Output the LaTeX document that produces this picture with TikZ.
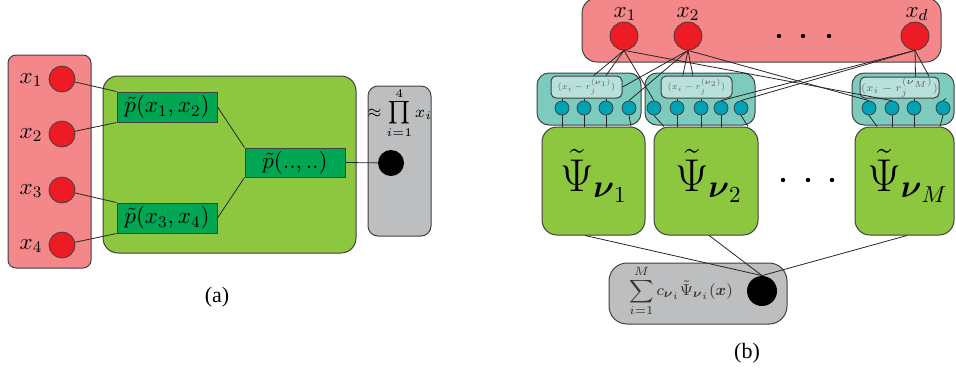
\RequirePackage{fix-cm}
\documentclass[tikz,border=0pt]{standalone}
\usepackage{amsmath}
\usepackage[no-math]{fontspec}
\newfontfamily\capfont{Liberation Serif}
\usetikzlibrary{fit,calc}
\definecolor{redbg}{HTML}{F4878A}
\definecolor{reddot}{HTML}{ED1C24}
\definecolor{greenbig}{HTML}{8DC63F}
\definecolor{greendark}{HTML}{00A651}
\definecolor{grayfill}{HTML}{BCBEC0}
\definecolor{tealbox}{HTML}{7DCBBE}
\definecolor{tealinner}{HTML}{B7E1DA}
\definecolor{tealdot}{HTML}{00A3B5}
\begin{document}
\begin{tikzpicture}[x=0.5pt,y=-0.5pt,
  bx/.style={draw=black!75, line width=0.5pt, inner sep=0pt},
  rdot/.style={circle, draw=black!75, line width=0.4pt, fill=reddot, inner sep=0pt},
  tdot/.style={circle, draw=black!75, line width=0.4pt, fill=tealdot, inner sep=0pt, minimum size=7pt},
  bdot/.style={circle, fill=black, inner sep=0pt},
  pbox/.style={bx, fill=greendark, font=\fontsize{11.5}{13}\selectfont},
  lab/.style={font=\fontsize{11.5}{13}\selectfont, inner sep=0pt},
  ilab/.style={font=\fontsize{6}{7}\selectfont, text=black!60, inner sep=0pt},
  psi/.style={font=\fontsize{23}{27}\selectfont, inner sep=0pt},
  captext/.style={font=\capfont\fontsize{11}{13}\selectfont, inner sep=0pt},
  ln/.style={draw=black!85, line width=0.4pt},
  sdot/.style={circle, fill=black, inner sep=0pt, minimum size=2.2pt}
]
\useasboundingbox (0,0) rectangle (956,372);

% ---------------- (a) ----------------
\node[bx, fill=redbg, rounded corners=4pt, fit={(8,55)(91,268)}] (RA) {};
\foreach \i/\y in {1/79,2/134,3/190,4/245}{
  \node[rdot, minimum size=13pt] (a\i) at (62,\y) {};
  \node[lab] (la\i) at (31,\y+1) {$x_{\i}$};
}
\node[bx, fill=greenbig, rounded corners=7.5pt, fit={(103,76)(356,253)}] (GA) {};
\node[pbox, fit={(117,92)(217,122)}] (p12) {};
\node[lab] (t12) at (p12) {$\tilde p(x_1,x_2)$};
\node[pbox, fit={(117,203)(217,233)}] (p34) {};
\node[lab] (t34) at (p34) {$\tilde p(x_3,x_4)$};
\node[pbox, fit={(245,148)(345,177)}] (pdd) {};
\node[lab] (tdd) at (pdd) {$\tilde p(..,..)$};
\node[bx, fill=grayfill, rounded corners=5pt, fit={(368,86)(431,236)}] (YA) {};
\node[bdot, minimum size=13pt] (ba) at (391,163) {};
\node[font=\fontsize{8.3}{10}\selectfont, inner sep=0pt] (prod) at (400,113) {$\approx\displaystyle\prod_{i=1}^{4} x_i$};
\node[captext] (capa) at (217,297) {(a)};

\draw[ln] (a1) -- (p12.north west);
\draw[ln] (a2) -- (p12.south west);
\draw[ln] (a3) -- (p34.north west);
\draw[ln] (a4) -- (p34.south west);
\draw[ln] (p12.east) -- (pdd.north west);
\draw[ln] (p34.east) -- (pdd.south west);
\draw[ln] (pdd.east) -- (ba);

% ---------------- (b) ----------------
\node[bx, fill=redbg, rounded corners=7.5pt, fit={(582,-2)(941,62)}] (RB) {};
\node[rdot, minimum size=14pt] (x1) at (624,36) {};
\node[rdot, minimum size=14pt] (x2) at (688,36) {};
\node[rdot, minimum size=14pt] (xd) at (915,36) {};
\node[lab] (lx1) at (625,14) {$x_1$};
\node[lab] (lx2) at (688,14) {$x_2$};
\node[lab] (lxd) at (917,14) {$x_d$};
\node[sdot] (d1) at (779,36) {};
\node[sdot] (d2) at (803,36) {};
\node[sdot] (d3) at (829,36) {};

\node[bx, fill=tealbox, rounded corners=6pt, fit={(537,73)(641,125)}] (T1) {};
\node[bx, fill=tealbox, rounded corners=6pt, fit={(645,73)(755,125)}] (T2) {};
\node[bx, fill=tealbox, rounded corners=6pt, fit={(852,73)(954,125)}] (TM) {};
\node[bx, fill=tealinner, rounded corners=2.5pt, fit={(551,76)(622,98)}] (I1) {};
\node[bx, fill=tealinner, rounded corners=2.5pt, fit={(661,76)(732,98)}] (I2) {};
\node[bx, fill=tealinner, rounded corners=2.5pt, fit={(860,77)(939,98)}] (IM) {};
\node[ilab, scale=0.72] (il1) at (I1) {$(x_i-r_j^{(\boldsymbol\nu_1)})$};
\node[ilab, scale=0.72] (il2) at (I2) {$(x_i-r_j^{(\boldsymbol\nu_2)})$};
\node[ilab, scale=0.88] (ilM) at (IM) {$(x_i-r_j^{(\boldsymbol\nu_M)})$};

\foreach \k/\x in {1/562,2/584,3/606,4/629}{\node[tdot] (sa\k) at (\x,108) {};}
\foreach \k/\x in {1/654,2/677,3/701,4/721,5/741}{\node[tdot] (sb\k) at (\x,108) {};}
\foreach \k/\x in {1/869,2/892,3/914,4/943}{\node[tdot] (sm\k) at (\x,108) {};}

\node[bx, fill=greenbig, rounded corners=7.5pt, fit={(542,127)(645,235)}] (G1) {};
\node[bx, fill=greenbig, rounded corners=7.5pt, fit={(654,127)(758,235)}] (G2) {};
\node[bx, fill=greenbig, rounded corners=7.5pt, fit={(855,127)(954,235)}] (GM) {};
\node[psi] (psi1) at (594,176) {$\tilde\Psi_{\boldsymbol\nu_1}$};
\node[psi] (psi2) at (709,176) {$\tilde\Psi_{\boldsymbol\nu_2}$};
\node[psi] (psiM) at (908,176) {$\tilde\Psi_{\boldsymbol\nu_M}$};
\node[sdot] (e1) at (783,180) {};
\node[sdot] (e2) at (808,180) {};
\node[sdot] (e3) at (832,180) {};

\node[bx, fill=grayfill, rounded corners=9pt, fit={(609,263)(787,324)}] (YB) {};
\node[bdot, minimum size=15pt] (bb) at (762,291) {};
\node[font=\fontsize{8}{10}\selectfont, text=black!80, inner sep=0pt] (sumt) at (681,291)
  {$\displaystyle\sum_{i=1}^{M} c_{\boldsymbol\nu_i}\tilde\Psi_{\boldsymbol\nu_i}(\boldsymbol x)$};
\node[captext] (capb) at (747,353) {(b)};

% connectors x -> inner boxes / circles
\draw[ln] (x1.south) -- ($(I1.north west)!0.6!(I1.north east)$);
\draw[ln] (x1.south) -- ($(I1.north west)!0.77!(I1.north east)$);
\draw[ln] (x1.south) -- (sb1.north);
\draw[ln] (x1.south) -- (sm2.north);
\draw[ln] (x2.south) -- ($(I2.north west)!0.31!(I2.north east)$);
\draw[ln] (x2.south) -- ($(I2.north west)!0.45!(I2.north east)$);
\draw[ln] (x2.south) -- (I1.east);
\draw[ln] (x2.south) -- (sa4.north);
\draw[ln] (x2.south) -- (sm1.north);
\draw[ln] (xd.south) -- ($(IM.north west)!0.7!(IM.north east)$);
\draw[ln] (xd.south) -- ($(IM.north west)!0.87!(IM.north east)$);
\draw[ln] (xd.south) -- (sb4.north);
\draw[ln] (xd.south) -- (sb5.north);

% inner boxes -> circles
\foreach \k in {1,2,3}{\draw[ln] (sa\k.north |- I1.south) -- (sa\k.north);}
\foreach \k in {2,3}{\draw[ln] (sb\k.north |- I2.south) -- (sb\k.north);}
\draw[ln] (sm3.north |- IM.south) -- (sm3.north);
\draw[ln] ($(sm4.north |- IM.south)+(3,0)$) -- (sm4.north);

% circles -> green boxes
\foreach \k in {1,2,3}{\draw[ln] (sa\k.south) -- (sa\k.south |- G1.north);}
\draw[ln] (sa4.south) -- ($(sa4.south |- G1.north)+(2,0)$);
\draw[ln] (sb1.south) -- ($(sb1.south |- G2.north)+(10,0)$);
\foreach \k in {2,3,4}{\draw[ln] (sb\k.south) -- (sb\k.south |- G2.north);}
\draw[ln] (sb5.south) -- ($(sb5.south |- G2.north)+(7,0)$);
\draw[ln] (sm1.south) -- ($(sm1.south |- GM.north)+(8,0)$);
\foreach \k in {2,3}{\draw[ln] (sm\k.south) -- (sm\k.south |- GM.north);}
\draw[ln] (sm4.south) -- ($(sm4.south |- GM.north)+(-3,0)$);

% green boxes -> output
\draw[ln] ($(G1.south west)!0.42!(G1.south east)$) -- (bb.north);
\draw[ln] ($(G2.south west)!0.53!(G2.south east)$) -- (bb.north);
\draw[ln] ($(GM.south west)!0.525!(GM.south east)$) -- (bb.north);
\end{tikzpicture}
\end{document}
